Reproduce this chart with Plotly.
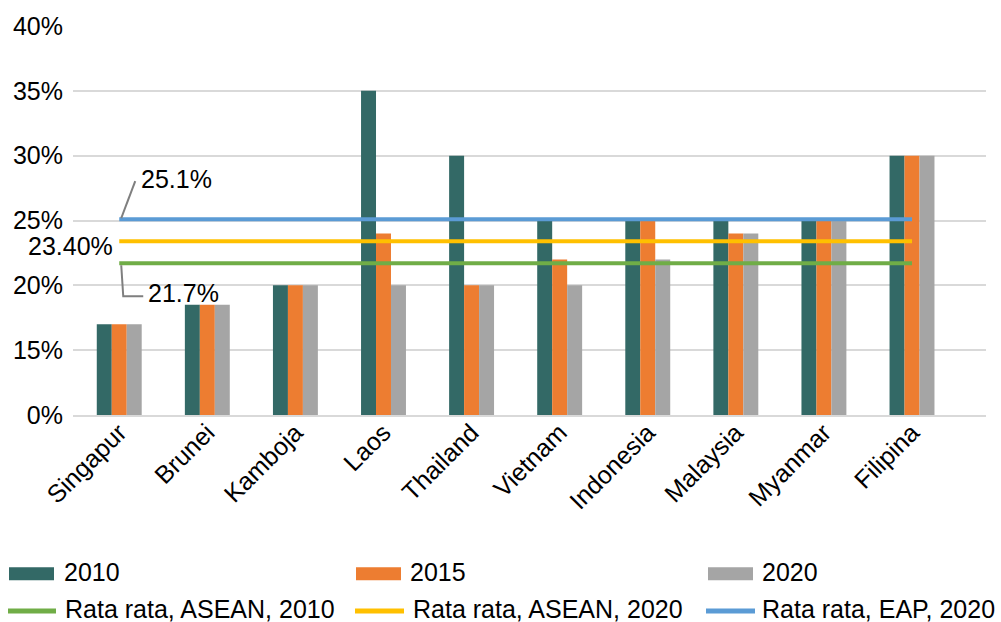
import plotly.graph_objects as go

# ---------------- data ----------------
countries = ["Singapur", "Brunei", "Kamboja", "Laos", "Thailand",
             "Vietnam", "Indonesia", "Malaysia", "Myanmar", "Filipina"]
v2010 = [17, 18.5, 20, 35, 30, 25, 25, 25, 25, 30]
v2015 = [17, 18.5, 20, 24, 20, 22, 25, 24, 25, 30]
v2020 = [17, 18.5, 20, 20, 20, 20, 22, 24, 25, 30]

avg_asean_2010 = 21.7
avg_asean_2020 = 23.4
avg_eap_2020 = 25.1

y_tickvals = [10, 15, 20, 25, 30, 35, 40]
y_ticktext = ["0%", "15%", "20%", "25%", "30%", "35%", "40%"]

bar_names = ["2010", "2015", "2020"]
bar_colors = ["#336966", "#ED7D31", "#A5A5A5"]
line_names = ["Rata rata, ASEAN, 2010", "Rata rata, ASEAN, 2020", "Rata rata, EAP, 2020"]
line_colors = ["#70AD47", "#FFC000", "#5B9BD5"]
line_values = [avg_asean_2010, avg_asean_2020, avg_eap_2020]

FONT = "Liberation Sans, Arial, sans-serif"
W, H = 1001, 622
ML, MR, MT, MB = 73, 15, 24, 207
PW, PH = W - ML - MR, H - MT - MB

fig = go.Figure()
for name, vals, col in zip(bar_names, [v2010, v2015, v2020], bar_colors):
    fig.add_trace(go.Bar(x=countries, y=vals, name=name, marker_color=col,
                         marker_line_width=0, showlegend=False))
for name, val, col in zip(line_names, line_values, line_colors):
    fig.add_trace(go.Scatter(x=countries, y=[val] * len(countries), name=name,
                             mode="lines", line=dict(color=col, width=4),
                             showlegend=False))

# ---------------- data labels ----------------
fs = 25
fig.add_annotation(x=countries[0], y=avg_eap_2020, text="25.1%", showarrow=False,
                   xanchor="left", yanchor="middle", xshift=20, yshift=40,
                   font=dict(size=fs, color="black", family=FONT))
fig.add_annotation(x=countries[0], y=avg_asean_2020, text="23.40%", showarrow=False,
                   xanchor="right", yanchor="middle", xshift=-4, yshift=-5,
                   font=dict(size=fs, color="black", family=FONT))
fig.add_annotation(x=countries[0], y=avg_asean_2010, text="21.7%", showarrow=False,
                   xanchor="left", yanchor="middle", xshift=27, yshift=-30,
                   font=dict(size=fs, color="black", family=FONT))
# leader lines
fig.add_shape(type="path", xref="x", yref="y", xsizemode="pixel", ysizemode="pixel",
              xanchor=countries[0], yanchor=avg_eap_2020,
              path="M 2,1 L 16,38", line=dict(color="#7F7F7F", width=2))
fig.add_shape(type="path", xref="x", yref="y", xsizemode="pixel", ysizemode="pixel",
              xanchor=countries[0], yanchor=avg_asean_2010,
              path="M 2,-2 L 4,-33 L 24,-33", line=dict(color="#7F7F7F", width=2))

# ---------------- manual legend ----------------
def px(x):
    return (x - ML) / PW

def py(y):
    return (H - MB - y) / PH

col_sw = [9, 356, 708]
col_tx1 = [62, 408, 760]
col_ln = [(8, 56), (355, 404), (706, 755)]
col_tx2 = [63, 411, 760]
for i in range(3):
    fig.add_shape(type="rect", xref="paper", yref="paper",
                  x0=px(col_sw[i]), x1=px(col_sw[i] + 45), y0=py(581), y1=py(568),
                  fillcolor=bar_colors[i], line=dict(width=0))
    fig.add_annotation(xref="paper", yref="paper", x=px(col_tx1[i]), y=py(573),
                       text=bar_names[i], showarrow=False, xanchor="left", yanchor="middle",
                       font=dict(size=fs, color="black", family=FONT))
    fig.add_shape(type="line", xref="paper", yref="paper",
                  x0=px(col_ln[i][0]), x1=px(col_ln[i][1]), y0=py(612), y1=py(612),
                  line=dict(color=line_colors[i], width=5))
    fig.add_annotation(xref="paper", yref="paper", x=px(col_tx2[i]), y=py(610),
                       text=line_names[i], showarrow=False, xanchor="left", yanchor="middle",
                       font=dict(size=fs, color="black", family=FONT))

fig.update_layout(
    width=W, height=H,
    margin=dict(l=ML, r=MR, t=MT, b=MB),
    paper_bgcolor="white", plot_bgcolor="white",
    barmode="group", bargap=0.49, bargroupgap=0,
    showlegend=False,
    font=dict(family=FONT, size=fs, color="black"),
)
fig.update_xaxes(type="category", range=[-0.525, 9.84], tickangle=-45,
                 tickfont=dict(size=fs, color="black", family=FONT),
                 showgrid=False, showline=True, linecolor="#D9D9D9", linewidth=2,
                 ticks="", ticklabelstandoff=-9)
fig.update_yaxes(range=[10, 40], tickvals=y_tickvals, ticktext=y_ticktext,
                 tickfont=dict(size=fs, color="black", family=FONT),
                 showgrid=True, gridcolor="#D9D9D9", gridwidth=1.5,
                 zeroline=False, ticks="", ticklabelstandoff=9)

fig.write_html("out.html", config={"displayModeBar": False},
               post_script="document.body.style.margin='0';document.body.style.overflow='hidden';")
